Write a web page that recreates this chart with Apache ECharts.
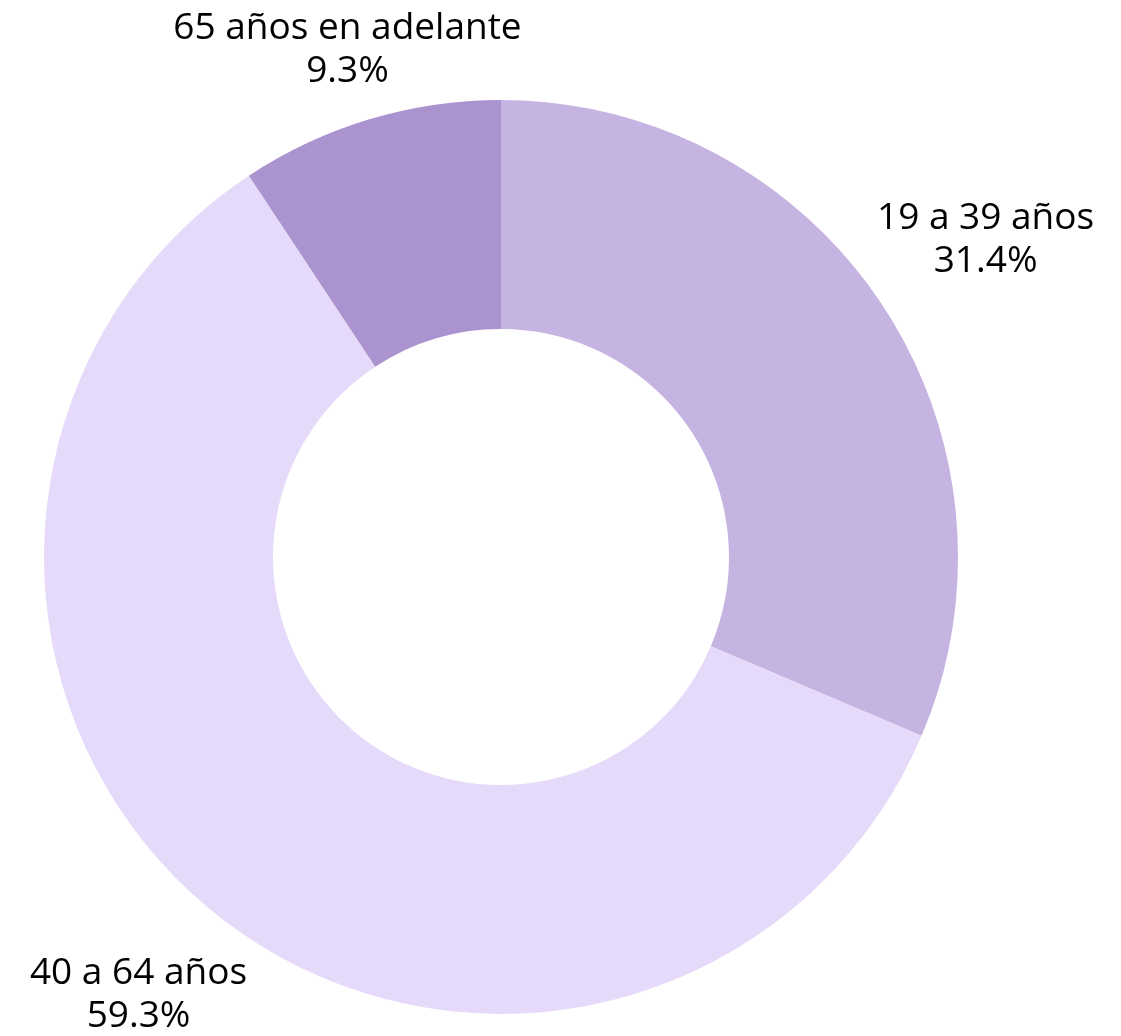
<!DOCTYPE html>
<html>
<head>
<meta charset="utf-8">
<script src="https://cdn.jsdelivr.net/npm/echarts@6/dist/echarts.min.js"></script>
<style>
  html, body { margin: 0; padding: 0; background: #fff; }
  #pie-chart { width: 1121px; height: 1036px; }
</style>
</head>
<body>
<div id="pie-chart"></div>
<script>
var categories = ['19 a 39 años', '40 a 64 años', '65 años en adelante'];
var shares = [31.4, 59.3, 9.3];
var colors = ['#c5b3e1', '#e5daf9', '#ab93cf'];

var CX = 501, CY = 557, R0 = 228, R = 457, GAP = 10;

function initPieChart() {
    var _chart = echarts.init(document.getElementById('pie-chart'));
    var total = shares.reduce(function (a, b) { return a + b; }, 0);
    var data = [];
    for (var i = 0; i < categories.length; i++) {
        data.push({
            name: categories[i],
            value: shares[i],
            itemStyle: { color: colors[i] }
        });
    }

    // push each label out along the slice's middle angle until its box clears the ring
    function placeLabel(p) {
        var before = 0;
        for (var k = 0; k < p.dataIndex; k++) before += shares[k];
        var phi = (before + shares[p.dataIndex] / 2) / total * 2 * Math.PI;
        var ux = Math.sin(phi), uy = -Math.cos(phi);
        var hw = p.labelRect.width / 2, hh = p.labelRect.height / 2;
        var t = R;
        function nearest(t) {
            var ox = ux * t, oy = uy * t;
            var nx = Math.max(ox - hw, Math.min(0, ox + hw));
            var ny = Math.max(oy - hh, Math.min(0, oy + hh));
            return Math.sqrt(nx * nx + ny * ny);
        }
        while (nearest(t) < R + GAP) t += 0.5;
        return {
            x: CX + ux * t,
            y: CY + uy * t + 3,
            align: 'center',
            verticalAlign: 'middle'
        };
    }

    var option = {
        backgroundColor: '#ffffff',
        animation: false,
        series: [{
            type: 'pie',
            center: [CX, CY],
            radius: [R0, R],
            startAngle: 90,
            clockwise: true,
            avoidLabelOverlap: false,
            label: {
                show: true,
                position: 'outside',
                fontFamily: 'Open Sans',
                fontSize: 37,
                lineHeight: 43,
                color: '#000000',
                formatter: function (p) {
                    return p.name + '\n' + p.value.toFixed(1) + '%';
                }
            },
            labelLine: { show: false },
            labelLayout: placeLabel,
            emphasis: { disabled: true },
            data: data
        }]
    };
    _chart.setOption(option);
}
initPieChart();
</script>
</body>
</html>
